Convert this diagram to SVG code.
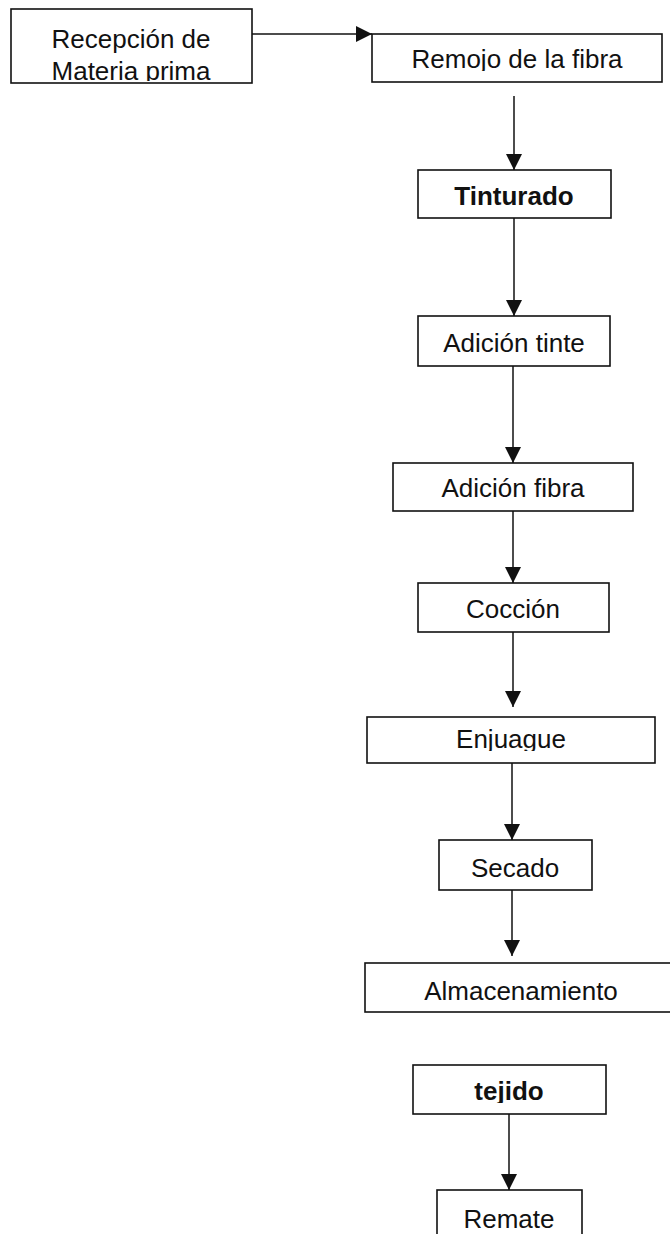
<svg xmlns="http://www.w3.org/2000/svg" width="670" height="1234" viewBox="0 0 670 1234">
<style>
.box{fill:#fff;stroke:#111;stroke-width:1.6}
.t{font-family:"Liberation Sans",Arial,sans-serif;font-size:26px;fill:#111;text-anchor:middle}
.b{font-weight:bold}
.c{stroke:#111;stroke-width:1.5;fill:none}
</style>
<defs>
<marker id="ah" markerUnits="userSpaceOnUse" markerWidth="16" markerHeight="18" refX="16" refY="8" orient="auto" viewBox="0 0 16 16">
<path d="M0,0 L16,8 L0,16 Z" fill="#111"/>
</marker>
<clipPath id="c1"><rect x="11" y="9" width="240" height="72"/></clipPath>
<clipPath id="c2"><rect x="372" y="34" width="290" height="37"/></clipPath>
<clipPath id="c8"><rect x="367" y="717" width="288" height="34"/></clipPath>
<clipPath id="c11"><rect x="413" y="1065" width="193" height="38"/></clipPath>
</defs>
<g id="connectors">
<line class="c" x1="252" y1="34" x2="372" y2="34" marker-end="url(#ah)"/>
<line class="c" x1="514" y1="96" x2="514" y2="170" marker-end="url(#ah)"/>
<line class="c" x1="514" y1="218" x2="514" y2="316" marker-end="url(#ah)"/>
<line class="c" x1="513" y1="366" x2="513" y2="463" marker-end="url(#ah)"/>
<line class="c" x1="513" y1="511" x2="513" y2="583" marker-end="url(#ah)"/>
<line class="c" x1="513" y1="632" x2="513" y2="707" marker-end="url(#ah)"/>
<line class="c" x1="512" y1="763" x2="512" y2="840" marker-end="url(#ah)"/>
<line class="c" x1="512" y1="890" x2="512" y2="956" marker-end="url(#ah)"/>
<line class="c" x1="509" y1="1114" x2="509" y2="1190" marker-end="url(#ah)"/>
</g>
<g id="recepcion">
<rect class="box" x="11" y="9" width="241" height="74"/>
<g clip-path="url(#c1)">
<text class="t" x="131" y="48">Recepción de</text>
<text class="t" x="131" y="80">Materia prima</text>
</g>
</g>
<g id="remojo">
<rect class="box" x="372" y="34" width="290" height="48"/>
<text class="t" x="517" y="68" clip-path="url(#c2)">Remojo de la fibra</text>
</g>
<g id="tinturado">
<rect class="box" x="418" y="170" width="193" height="48"/>
<text class="t b" x="514" y="205">Tinturado</text>
</g>
<g id="adicion-tinte">
<rect class="box" x="418" y="316" width="192" height="50"/>
<text class="t" x="514" y="352">Adición tinte</text>
</g>
<g id="adicion-fibra">
<rect class="box" x="393" y="463" width="240" height="48"/>
<text class="t" x="513" y="497">Adición fibra</text>
</g>
<g id="coccion">
<rect class="box" x="418" y="583" width="191" height="49"/>
<text class="t" x="513" y="618">Cocción</text>
</g>
<g id="enjuague">
<rect class="box" x="367" y="717" width="288" height="46"/>
<text class="t" x="511" y="748" clip-path="url(#c8)">Enjuague</text>
</g>
<g id="secado">
<rect class="box" x="439" y="840" width="153" height="50"/>
<text class="t" x="515" y="877">Secado</text>
</g>
<g id="almacenamiento">
<rect class="box" x="365" y="963" width="310" height="49"/>
<text class="t" x="521" y="1000">Almacenamiento</text>
</g>
<g id="tejido">
<rect class="box" x="413" y="1065" width="193" height="49"/>
<text class="t b" x="509" y="1100" clip-path="url(#c11)">tejido</text>
</g>
<g id="remate">
<rect class="box" x="437" y="1190" width="145" height="60"/>
<text class="t" x="509" y="1228">Remate</text>
</g>
</svg>
